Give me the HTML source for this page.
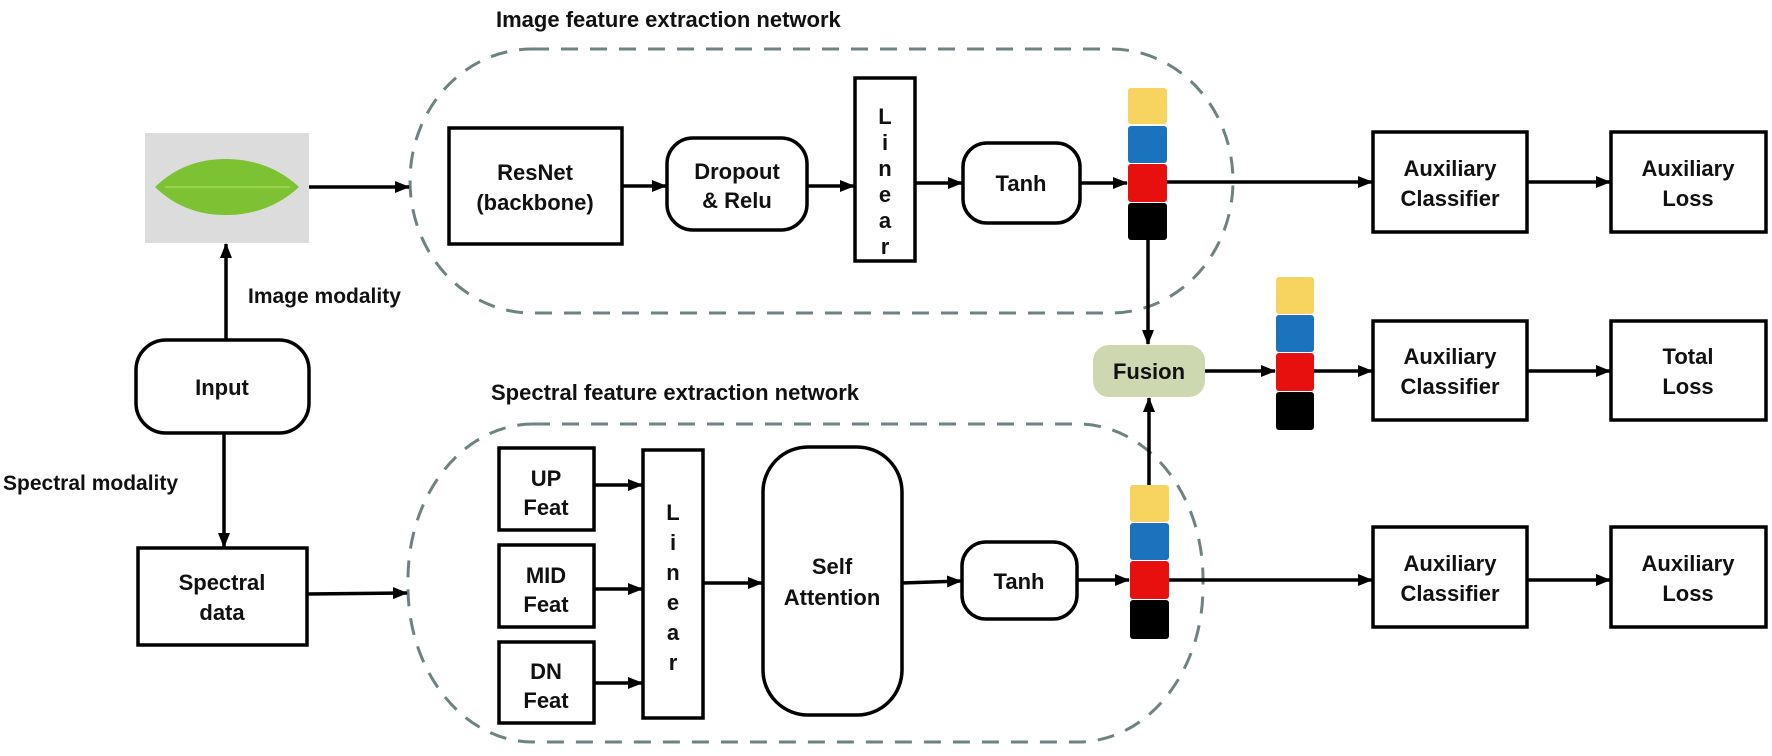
<!DOCTYPE html>
<html><head><meta charset="utf-8"><style>
html,body{margin:0;padding:0;background:#fff;}
svg{display:block;}
text{font-family:"Liberation Sans",Arial,sans-serif;font-weight:bold;fill:#111;}
</style></head><body>
<svg width="1772" height="756" viewBox="0 0 1772 756" xmlns="http://www.w3.org/2000/svg">
<defs>
<marker id="ah" markerWidth="15" markerHeight="12" refX="14" refY="6" orient="auto" markerUnits="userSpaceOnUse">
<path d="M0,0 L15,6 L0,12 Z" fill="#000"/>
</marker>
</defs>
<!-- dashed groups -->
<rect x="410" y="49" width="823" height="264" rx="122" ry="132" fill="none" stroke="#6f8282" stroke-width="3" stroke-dasharray="17 12"/>
<rect x="408" y="424" width="795" height="318" rx="125" ry="155" fill="none" stroke="#6f8282" stroke-width="3" stroke-dasharray="17 12"/>
<text x="496" y="27" font-size="22">Image feature extraction network</text>
<text x="491" y="400" font-size="22">Spectral feature extraction network</text>

<!-- leaf -->
<rect x="145" y="133" width="164" height="110" fill="#dcdcdc"/>
<path d="M155,187 Q185,158 228,159 Q270,160 299,187 Q270,214 228,215 Q185,216 155,187 Z" fill="#7cc232"/>
<path d="M165,187 L290,187" stroke="#a4d656" stroke-width="1.5"/>

<g fill="none" stroke="#000" stroke-width="3.5">
<rect x="136" y="340" width="173" height="93" rx="30"/>
<rect x="138" y="548" width="169" height="97"/>
<rect x="449" y="128" width="173" height="116"/>
<rect x="667" y="138" width="140" height="92" rx="26"/>
<rect x="855" y="78" width="60" height="183"/>
<rect x="963" y="143" width="117" height="80" rx="24"/>
<rect x="499" y="448" width="95" height="82"/>
<rect x="499" y="545" width="95" height="82"/>
<rect x="499" y="642" width="95" height="81"/>
<rect x="643" y="450" width="60" height="268"/>
<rect x="763" y="447" width="139" height="268" rx="45"/>
<rect x="962" y="542" width="115" height="77" rx="24"/>
<rect x="1373" y="132" width="154" height="100"/>
<rect x="1611" y="132" width="155" height="100"/>
<rect x="1373" y="321" width="154" height="99"/>
<rect x="1611" y="321" width="155" height="99"/>
<rect x="1373" y="527" width="154" height="100"/>
<rect x="1611" y="527" width="155" height="100"/>
</g>
<rect x="1093" y="345" width="112" height="52" rx="16" fill="#cdd8b0"/>

<!-- cubes -->
<g>
<rect x="1128" y="88" width="39" height="36" rx="3" fill="#f7d360"/>
<rect x="1128" y="126" width="39" height="37" rx="3" fill="#1b72bd"/>
<rect x="1128" y="164" width="39" height="38" rx="3" fill="#e80f0f"/>
<rect x="1128" y="203" width="39" height="37" rx="3" fill="#000"/>
<rect x="1276" y="277" width="38" height="37" rx="3" fill="#f7d360"/>
<rect x="1276" y="315" width="38" height="37" rx="3" fill="#1b72bd"/>
<rect x="1276" y="353" width="38" height="38" rx="3" fill="#e80f0f"/>
<rect x="1276" y="392" width="38" height="38" rx="3" fill="#000"/>
<rect x="1130" y="485" width="39" height="37" rx="3" fill="#f7d360"/>
<rect x="1130" y="523" width="39" height="37" rx="3" fill="#1b72bd"/>
<rect x="1130" y="561" width="39" height="38" rx="3" fill="#e80f0f"/>
<rect x="1130" y="600" width="39" height="39" rx="3" fill="#000"/>
</g>

<!-- arrows -->
<g stroke="#000" stroke-width="3.5" fill="none" marker-end="url(#ah)">
<line x1="309" y1="187" x2="409" y2="187"/>
<line x1="226" y1="340" x2="226" y2="244"/>
<line x1="224" y1="433" x2="224" y2="547"/>
<line x1="307" y1="594" x2="407" y2="593"/>
<line x1="622" y1="186" x2="666" y2="186"/>
<line x1="807" y1="186" x2="854" y2="186"/>
<line x1="915" y1="183" x2="962" y2="183"/>
<line x1="1080" y1="183" x2="1127" y2="183"/>
<line x1="1167" y1="182" x2="1372" y2="182"/>
<line x1="1527" y1="182" x2="1610" y2="182"/>
<line x1="1148" y1="240" x2="1148" y2="344"/>
<line x1="1149" y1="485" x2="1149" y2="398"/>
<line x1="1205" y1="371" x2="1275" y2="371"/>
<line x1="1314" y1="371" x2="1372" y2="371"/>
<line x1="1527" y1="371" x2="1610" y2="371"/>
<line x1="594" y1="485" x2="642" y2="485"/>
<line x1="594" y1="589" x2="642" y2="589"/>
<line x1="594" y1="683" x2="642" y2="683"/>
<line x1="703" y1="583" x2="762" y2="583"/>
<line x1="902" y1="583" x2="961" y2="581"/>
<line x1="1077" y1="580" x2="1129" y2="580"/>
<line x1="1169" y1="580" x2="1372" y2="580"/>
<line x1="1527" y1="580" x2="1610" y2="580"/>
</g>

<!-- labels -->
<g font-size="22" text-anchor="middle">
<text x="222" y="395">Input</text>
<text x="222" y="590">Spectral</text>
<text x="222" y="620">data</text>
<text x="535" y="180">ResNet</text>
<text x="535" y="210">(backbone)</text>
<text x="737" y="179">Dropout</text>
<text x="737" y="208">&amp; Relu</text>
<text x="1021" y="191">Tanh</text>
<text x="1019" y="589">Tanh</text>
<text x="1149" y="379">Fusion</text>
<text x="546" y="486">UP</text>
<text x="546" y="515">Feat</text>
<text x="546" y="583">MID</text>
<text x="546" y="612">Feat</text>
<text x="546" y="679">DN</text>
<text x="546" y="708">Feat</text>
<text x="832" y="574">Self</text>
<text x="832" y="605">Attention</text>
<text x="1450" y="176">Auxiliary</text>
<text x="1450" y="206">Classifier</text>
<text x="1688" y="176">Auxiliary</text>
<text x="1688" y="206">Loss</text>
<text x="1450" y="364">Auxiliary</text>
<text x="1450" y="394">Classifier</text>
<text x="1688" y="364">Total</text>
<text x="1688" y="394">Loss</text>
<text x="1450" y="571">Auxiliary</text>
<text x="1450" y="601">Classifier</text>
<text x="1688" y="571">Auxiliary</text>
<text x="1688" y="601">Loss</text>
<!-- vertical Linear -->
<text x="885" y="124">L</text>
<text x="885" y="150">i</text>
<text x="885" y="176">n</text>
<text x="885" y="202">e</text>
<text x="885" y="228">a</text>
<text x="885" y="254">r</text>
<text x="673" y="520">L</text>
<text x="673" y="550">i</text>
<text x="673" y="580">n</text>
<text x="673" y="610">e</text>
<text x="673" y="640">a</text>
<text x="673" y="670">r</text>
</g>
<text x="248" y="303" font-size="21">Image modality</text>
<text x="3" y="490" font-size="21">Spectral modality</text>
</svg>
</body></html>
